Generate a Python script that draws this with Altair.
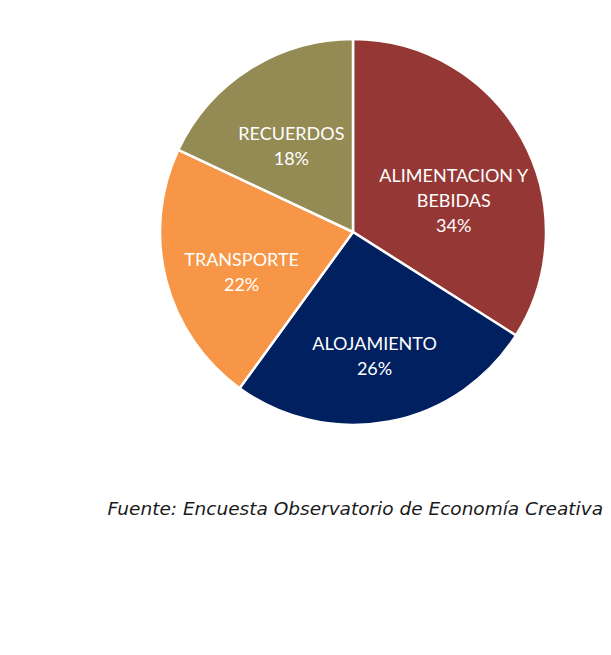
import altair as alt
import pandas as pd

categories = ["ALIMENTACION Y BEBIDAS", "ALOJAMIENTO", "TRANSPORTE", "RECUERDOS"]
label_lines = ["ALIMENTACION Y\nBEBIDAS", "ALOJAMIENTO", "TRANSPORTE", "RECUERDOS"]
values = [34, 26, 22, 18]
colors = ["#953735", "#002060", "#F79646", "#948A54"]
source_text = "Fuente: Encuesta Observatorio de Economía Creativa"

df = pd.DataFrame({
    "cat": categories,
    "value": values,
    "order": list(range(len(categories))),
    "label": [f"{l}\n{v}%" for l, v in zip(label_lines, values)],
})

CX, CY = 345, 224

base = alt.Chart(df).encode(
    theta=alt.Theta("value:Q", stack=True),
    order=alt.Order("order:Q"),
)

pie = base.mark_arc(outerRadius=193, stroke="white", strokeWidth=2.5).encode(
    x=alt.value(CX), y=alt.value(CY),
    color=alt.Color("cat:N", scale=alt.Scale(domain=categories, range=colors), legend=None),
)

labels = base.mark_text(
    radius=115, color="white", font="Lato", fontSize=18, lineBreak="\n",
    lineHeight=25, align="center", baseline="middle",
).encode(
    x=alt.value(CX), y=alt.value(CY),
    text="label:N",
)

src = alt.Chart(pd.DataFrame({"t": [source_text]})).mark_text(
    font="DejaVu Sans", fontStyle="italic", fontSize=18.5, color="#1a1a1a",
    align="right", baseline="middle",
).encode(x=alt.value(595), y=alt.value(501), text="t:N")

chart = alt.layer(pie, labels, src).properties(
    width=595, height=600, padding=0, autosize=alt.AutoSizeParams(type="none"),
).configure(background="white").configure_view(stroke="transparent", strokeWidth=0)

chart.save("out.html", embed_options={"renderer": "svg", "actions": False})
